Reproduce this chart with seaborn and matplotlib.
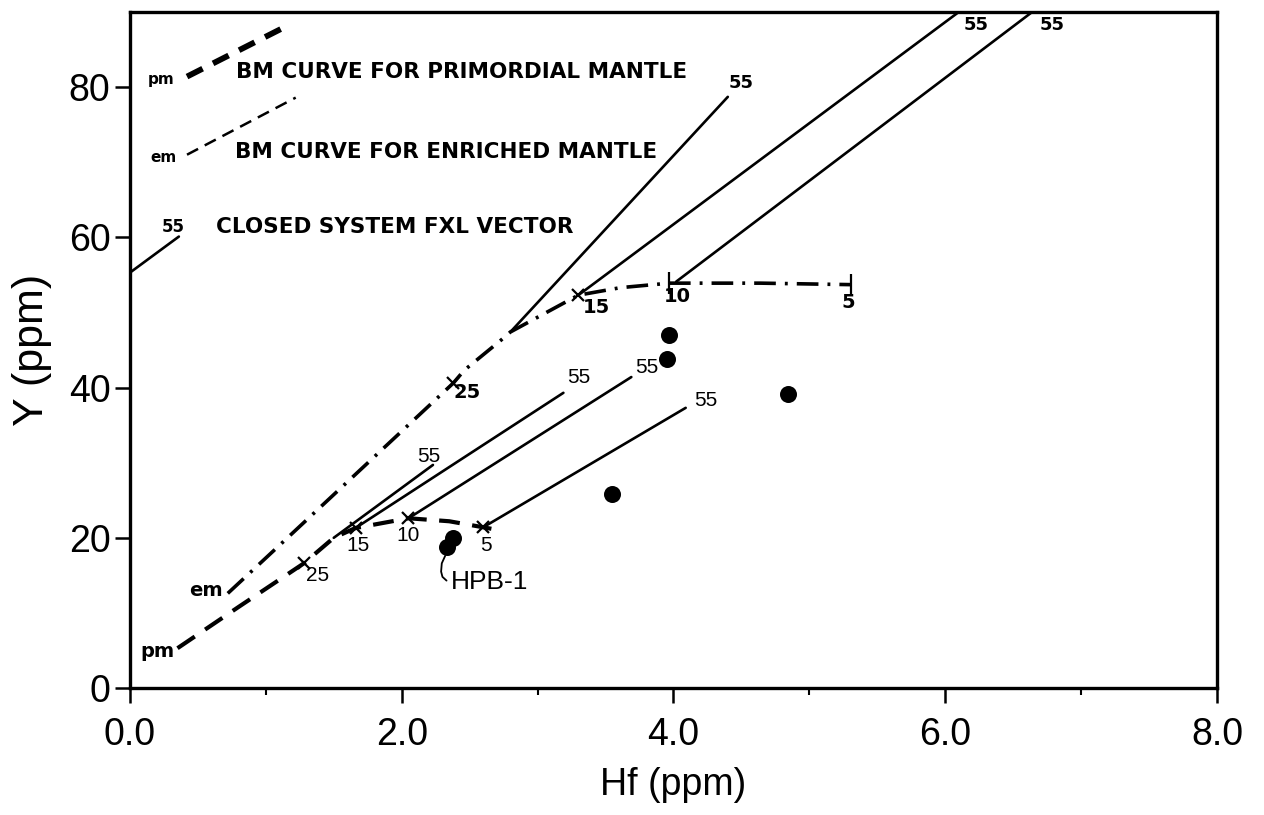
import matplotlib
matplotlib.use("Agg")
import matplotlib.pyplot as plt
import pandas as pd
import seaborn as sns

# ---------------- data ----------------
# batch-melting (BM) curve for primordial mantle (pm)
pm_x = [0.35, 0.80, 1.28, 1.50, 1.66, 2.05, 2.35, 2.60, 2.66]
pm_y = [5.3, 10.8, 16.6, 20.0, 21.3, 22.6, 22.2, 21.4, 21.2]
# BM curve for enriched mantle (em)
em_x = [0.72, 1.13, 2.38, 2.46, 2.73, 2.80, 3.30, 3.61, 3.97, 4.64, 5.31]
em_y = [12.6, 19.5, 40.6, 42.3, 46.3, 47.4, 52.3, 53.3, 53.9, 53.9, 53.7]

# % melting marks on the curves
pm_mark_x = [1.28, 1.66, 2.05, 2.60]
pm_mark_y = [16.6, 21.3, 22.6, 21.4]
pm_mark_lab = ["25", "15", "10", "5"]
em_mark_x = [2.38, 3.30, 3.97, 5.31]
em_mark_y = [40.6, 52.3, 53.9, 53.7]
em_mark_lab = ["25", "15", "10", "5"]

# closed-system FXL vectors (start -> end, 55 % crystallisation)
vec_x0 = [1.50, 1.66, 2.05, 2.60, 2.80, 3.30, 4.02]
vec_y0 = [20.0, 21.3, 22.6, 21.4, 47.4, 52.3, 54.1]
vec_x1 = [2.23, 3.19, 3.69, 4.09, 4.40, 6.10, 6.64]
vec_y1 = [29.7, 39.3, 41.4, 37.3, 78.7, 90.0, 90.0]
vec_lab = ["55", "55", "55", "55", "55", "55", "55"]

# samples
sample_x = [3.97, 3.95, 4.84, 3.55, 2.38, 2.33]
sample_y = [47.0, 43.8, 39.1, 25.8, 20.0, 18.8]

x_ticks = [0, 2, 4, 6, 8]
x_tick_labels = ["0.0", "2.0", "4.0", "6.0", "8.0"]
y_ticks = [0, 20, 40, 60, 80]

# ---------------- figure ----------------
sns.set_theme(style="ticks")
plt.rcParams["font.family"] = ["Liberation Sans", "DejaVu Sans"]
plt.rcParams["text.color"] = "black"
plt.rcParams["axes.labelcolor"] = "black"
plt.rcParams["xtick.color"] = "black"
plt.rcParams["ytick.color"] = "black"

fig = plt.figure(figsize=(12.64, 8.15), dpi=100)
ax = fig.add_axes([0.1028, 0.1558, 0.86, 0.8295])

# curves
pm_df = pd.DataFrame({"x": pm_x, "y": pm_y})
em_df = pd.DataFrame({"x": em_x, "y": em_y})
sns.lineplot(data=pm_df, x="x", y="y", sort=False, estimator=None, ax=ax,
             color="black", lw=3.0, dashes=False)
ax.lines[-1].set_linestyle((0, (5, 3)))
sns.lineplot(data=em_df, x="x", y="y", sort=False, estimator=None, ax=ax,
             color="black", lw=2.6, dashes=False)
ax.lines[-1].set_linestyle((0, (6, 2.5, 0.8, 2.5)))

# vectors
for i in range(len(vec_x0)):
    vdf = pd.DataFrame({"x": [vec_x0[i], vec_x1[i]], "y": [vec_y0[i], vec_y1[i]]})
    sns.lineplot(data=vdf, x="x", y="y", sort=False, estimator=None, ax=ax,
                 color="black", lw=1.9)

# marks on curves
ax.plot(pm_mark_x, pm_mark_y, ls="none", marker="x", ms=9, mew=1.6, color="black")
ax.plot(em_mark_x[:2], em_mark_y[:2], ls="none", marker="x", ms=9, mew=1.6, color="black")
ax.plot(em_mark_x[2:], em_mark_y[2:], ls="none", marker="|", ms=16, mew=1.6, color="black")

# samples
sdf = pd.DataFrame({"x": sample_x, "y": sample_y})
sns.scatterplot(data=sdf, x="x", y="y", ax=ax, color="black", s=150,
                edgecolor="black", linewidth=0, zorder=5)

# labels for % melting marks
pm_off = [(0.10, -1.6), (0.02, -2.3), (0.00, -2.3), (0.02, -2.4)]
for (x, y, t, o) in zip(pm_mark_x, pm_mark_y, pm_mark_lab, pm_off):
    ax.text(x + o[0], y + o[1], t, fontsize=15, ha="center", va="center")
em_off = [(0.10, -1.3), (0.13, -1.6), (0.06, -1.8), (-0.02, -2.4)]
for (x, y, t, o) in zip(em_mark_x, em_mark_y, em_mark_lab, em_off):
    ax.text(x + o[0], y + o[1], t, fontsize=14, fontweight="bold",
            family="DejaVu Sans", ha="center", va="center")

# labels for vectors
vec_lab_pos = [(2.20, 30.8), (3.30, 41.3), (3.80, 42.7), (4.24, 38.3),
               (4.50, 80.6), (6.23, 88.3), (6.79, 88.3)]
for i, (t, p) in enumerate(zip(vec_lab, vec_lab_pos)):
    if i < 4:
        ax.text(p[0], p[1], t, fontsize=15, ha="center", va="center")
    else:
        ax.text(p[0], p[1], t, fontsize=13, fontweight="bold",
                family="DejaVu Sans", ha="center", va="center")

# curve-start labels
ax.text(0.68, 13.0, "em", fontsize=14, fontweight="bold", family="DejaVu Sans",
        ha="right", va="center")
ax.text(0.33, 4.8, "pm", fontsize=14, fontweight="bold", family="DejaVu Sans",
        ha="right", va="center")

# HPB-1 label with hook
ax.plot([2.32, 2.295, 2.29, 2.30, 2.33], [17.6, 16.6, 15.5, 14.8, 14.3],
        color="black", lw=1.3)
ax.text(2.36, 14.1, "HPB-1", fontsize=19, ha="left", va="center")

# in-plot key
ax.plot([0.42, 1.14], [81.4, 88.0], color="black", lw=4.2, ls=(0, (3, 2)))
ax.text(0.33, 81.0, "pm", fontsize=11, fontweight="bold", family="DejaVu Sans",
        ha="right", va="center")
ax.text(0.78, 82.0, "BM CURVE FOR PRIMORDIAL MANTLE", fontsize=15.5,
        fontweight="bold", family="DejaVu Sans", ha="left", va="center")
ax.plot([0.42, 1.22], [71.0, 78.6], color="black", lw=1.8, ls=(0, (5, 3)))
ax.text(0.34, 70.6, "em", fontsize=11, fontweight="bold", family="DejaVu Sans",
        ha="right", va="center")
ax.text(0.77, 71.4, "BM CURVE FOR ENRICHED MANTLE", fontsize=15.5,
        fontweight="bold", family="DejaVu Sans", ha="left", va="center")
ax.plot([0.0, 0.36], [55.3, 60.1], color="black", lw=1.9)
ax.text(0.32, 61.4, "55", fontsize=12, fontweight="bold", family="DejaVu Sans",
        ha="center", va="center")
ax.text(0.63, 61.4, "CLOSED SYSTEM FXL VECTOR", fontsize=15.5,
        fontweight="bold", family="DejaVu Sans", ha="left", va="center")

# axes
ax.set_xlim(0, 8)
ax.set_ylim(0, 90)
ax.set_xticks(x_ticks)
ax.set_xticklabels(x_tick_labels)
ax.set_xticks([1, 3, 5, 7], minor=True)
ax.set_yticks(y_ticks)
ax.tick_params(axis="both", which="major", direction="out", length=11, width=1.8,
               labelsize=27, colors="black")
ax.tick_params(axis="x", which="minor", direction="out", length=5, width=1.5,
               colors="black")
ax.tick_params(axis="x", pad=10)
ax.tick_params(axis="y", pad=3)
for sp in ax.spines.values():
    sp.set_visible(True)
    sp.set_linewidth(2.4)
    sp.set_color("black")
ax.set_facecolor("white")
ax.set_xlabel("Hf (ppm)", fontsize=27, labelpad=10, color="black")
ax.set_ylabel("Y (ppm)", fontsize=31, labelpad=12, color="black")
ax.grid(False)

fig.savefig("out.png", dpi=100, facecolor="white")
